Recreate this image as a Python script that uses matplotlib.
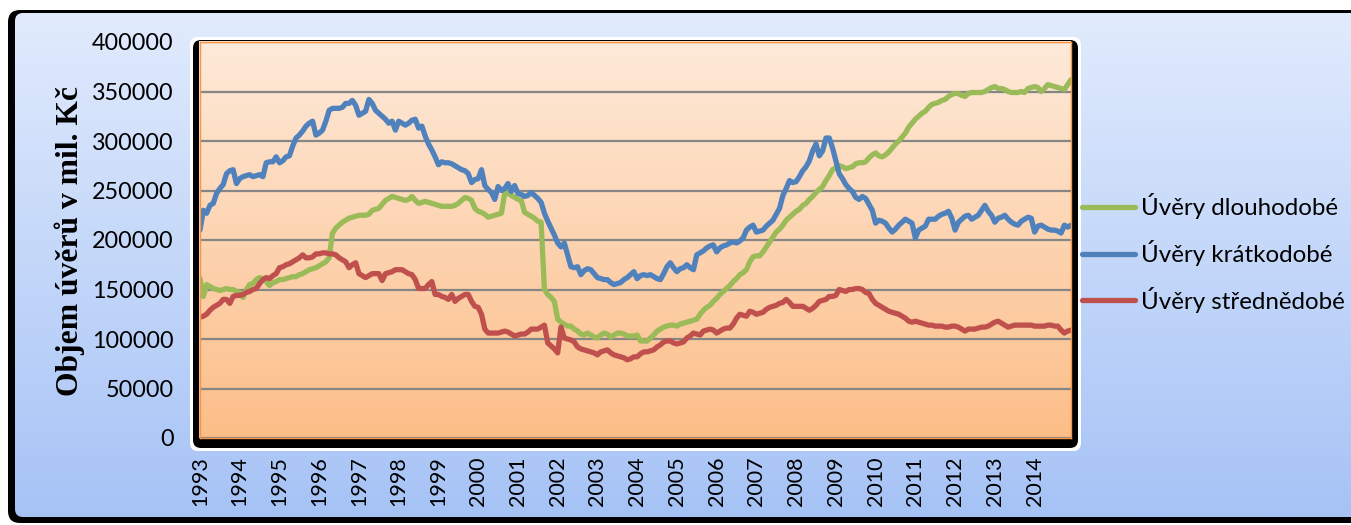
import numpy as np
import matplotlib
matplotlib.use("Agg")
import matplotlib.pyplot as plt
from matplotlib.patches import FancyBboxPatch

plt.rcParams['font.family'] = ['Lato', 'DejaVu Sans']

# mesicni data 1/1993 - 12/2014, v tis. mil. Kc
roky = list(range(1993, 2015))

dlouhodobe_tis = [
    161, 143, 155, 153, 151, 150, 149, 150, 151, 150, 150, 148,
    147, 142, 150, 155, 156, 160, 162, 161, 158, 154, 157, 158,
    160, 160, 161, 162, 163, 163, 165, 166, 168, 170, 171, 172,
    174, 176, 178, 182, 207, 212, 215, 218, 220, 222, 223, 224,
    225, 225, 225, 226, 230, 231, 232, 236, 240, 242, 244, 243,
    242, 241, 240, 241, 244, 240, 237, 238, 239, 238, 237, 236,
    235, 234, 234, 234, 234, 235, 237, 240, 243, 242, 240, 232,
    229, 228, 226, 223, 224, 225, 226, 227, 247, 247, 245, 243,
    241, 240, 228, 226, 224, 222, 219, 218, 150, 145, 142, 138,
    120, 117, 115, 113, 113, 110, 108, 105, 104, 106, 104, 102,
    101, 104, 106, 105, 102, 104, 106, 106, 105, 103, 103, 103,
    104, 98, 98, 98, 101, 104, 108, 110, 112, 113, 114, 114,
    113, 115, 116, 117, 118, 119, 120, 125, 129, 132, 134, 138,
    141, 145, 148, 151, 154, 158, 161, 165, 167, 170, 178, 183,
    184, 184, 188, 193, 198, 203, 208, 211, 215, 220, 223, 226,
    229, 231, 235, 237, 241, 244, 248, 251, 254, 260, 265, 271,
    273, 275, 274, 272, 273, 274, 277, 278, 278, 279, 283, 286,
    288, 285, 284, 286, 289, 293, 297, 300, 304, 308, 314, 318,
    322, 325, 328, 330, 334, 337, 338, 339, 341, 342, 345, 347,
    348, 348, 346, 345, 348, 349, 349, 349, 349, 350, 352, 354,
    355, 353, 353, 352, 350, 349, 349, 349, 350, 349, 353, 354,
    355, 354, 350, 353, 357, 356, 355, 354, 353, 352, 357, 362,
]

kratkodobe_tis = [
    210, 230, 227, 235, 237, 247, 252, 256, 267, 270, 271, 257,
    262, 264, 265, 266, 264, 265, 266, 264, 278, 279, 279, 284,
    278, 280, 284, 285, 295, 303, 306, 310, 315, 318, 320, 306,
    308, 311, 320, 331, 333, 333, 333, 334, 338, 338, 341, 336,
    326, 328, 330, 342, 338, 331, 328, 325, 322, 318, 320, 311,
    320, 318, 316, 318, 321, 322, 313, 315, 305, 297, 291, 284,
    276, 279, 278, 278, 277, 275, 273, 271, 270, 267, 258, 261,
    262, 271, 255, 251, 248, 241, 254, 250, 252, 257, 249, 255,
    247, 246, 244, 245, 248, 245, 242, 238, 227, 219, 212, 205,
    197, 193, 197, 185, 173, 172, 173, 165, 169, 171, 170, 166,
    162, 161, 160, 160, 157, 155, 156, 157, 160, 162, 165, 168,
    161, 164, 165, 164, 165, 163, 161, 160, 166, 173, 177, 172,
    168, 171, 172, 175, 172, 170, 185, 187, 189, 192, 194, 195,
    188, 192, 194, 195, 197, 198, 197, 199, 202, 210, 213, 215,
    208, 209, 210, 214, 217, 220, 226, 232, 245, 252, 260, 258,
    259, 264, 270, 274, 280, 290, 297, 285, 290, 303, 303, 293,
    280, 267, 262, 256, 252, 249, 243, 241, 244, 242, 236, 230,
    217, 220, 219, 217, 212, 208, 211, 215, 218, 221, 219, 217,
    202, 210, 212, 214, 221, 221, 221, 224, 226, 227, 229, 222,
    210, 218, 221, 224, 225, 221, 223, 225, 230, 235, 229, 225,
    218, 222, 223, 225, 221, 218, 216, 215, 219, 221, 223, 222,
    208, 214, 215, 213, 211, 210, 210, 209, 207, 215, 213, 215,
]

strednedobe_tis = [
    122, 123, 125, 129, 132, 134, 136, 140, 140, 136, 143, 144,
    144, 145, 147, 148, 150, 151, 156, 160, 162, 161, 164, 166,
    172, 173, 175, 176, 178, 180, 182, 185, 182, 182, 183, 186,
    186, 187, 187, 186, 186, 185, 182, 180, 178, 172, 175, 177,
    166, 164, 162, 164, 166, 166, 166, 159, 166, 167, 168, 170,
    170, 170, 168, 166, 165, 160, 151, 151, 151, 155, 158, 145,
    145, 143, 142, 140, 145, 138, 141, 143, 145, 145, 138, 133,
    132, 125, 110, 106, 106, 106, 106, 107, 108, 107, 105, 103,
    104, 105, 105, 107, 110, 110, 110, 112, 114, 96, 93, 90,
    86, 112, 101, 100, 99, 97, 92, 90, 89, 88, 87, 86,
    84, 87, 88, 89, 86, 84, 83, 82, 81, 79, 80, 82,
    82, 85, 87, 87, 88, 89, 92, 94, 97, 98, 98, 96,
    95, 96, 97, 101, 103, 106, 105, 104, 108, 109, 110, 109,
    106, 108, 110, 111, 111, 115, 121, 125, 124, 123, 128, 127,
    125, 126, 127, 130, 132, 133, 134, 136, 137, 140, 137, 133,
    133, 133, 133, 131, 129, 131, 134, 138, 139, 140, 143, 143,
    144, 150, 149, 148, 150, 150, 151, 151, 150, 147, 146, 140,
    136, 134, 132, 130, 128, 127, 126, 125, 123, 121, 118, 117,
    118, 117, 116, 115, 114, 114, 113, 113, 113, 112, 112, 113,
    113, 112, 110, 108, 110, 110, 110, 111, 112, 112, 113, 115,
    117, 118, 116, 114, 112, 113, 114, 114, 114, 114, 114, 114,
    113, 113, 113, 113, 114, 114, 113, 113, 109, 106, 108, 109,
]

dlouhodobe = np.array(dlouhodobe_tis) * 1000
kratkodobe = np.array(kratkodobe_tis) * 1000
strednedobe = np.array(strednedobe_tis) * 1000
mesice = np.arange(len(dlouhodobe))

W, H = 1351, 525
fig = plt.figure(figsize=(W / 100, H / 100), dpi=100)
fig.patch.set_facecolor('white')

# pozadi (ramecek grafu, gradienty) v pixelovych souradnicich
bg = fig.add_axes([0, 0, 1, 1], zorder=0)
bg.axis('off')


def gradient(c_top, c_bot, n=256):
    a = np.array(matplotlib.colors.to_rgb(c_top))
    b = np.array(matplotlib.colors.to_rgb(c_bot))
    t = np.linspace(0, 1, n)[:, None]
    return (a + (b - a) * t)[:, None, :]


bg.add_patch(FancyBboxPatch((8, 10), 1420, 513, boxstyle="round,pad=0,rounding_size=12",
                            facecolor='black', edgecolor='none', zorder=1))
inner = FancyBboxPatch((15, 13), 1420, 504, boxstyle="round,pad=0,rounding_size=8",
                       facecolor='none', edgecolor='none', zorder=1)
bg.add_patch(inner)
im = bg.imshow(gradient('#E1EBFD', '#A6C3F6'), extent=[15, W, 517, 13],
               aspect='auto', origin='upper', interpolation='bilinear', zorder=2)
im.set_clip_path(inner)

bg.add_patch(FancyBboxPatch((190, 37), 891, 414, boxstyle="round,pad=0,rounding_size=8",
                            facecolor='white', edgecolor='none', zorder=3))
bg.add_patch(FancyBboxPatch((193, 40), 885, 408, boxstyle="round,pad=0,rounding_size=8",
                            facecolor='black', edgecolor='none', zorder=4))
bg.imshow(gradient('#FEEADA', '#FCBE88'), extent=[199, 1071, 438, 41],
          aspect='auto', origin='upper', interpolation='bilinear', zorder=5)
bg.set_xlim(0, W)
bg.set_ylim(H, 0)

# hlavni graf
ax = fig.add_axes([200 / W, 1 - 438 / H, 871 / W, 396 / H], zorder=1)
ax.set_facecolor('none')

lw = 3.8
ax.plot(mesice, dlouhodobe, color='#9BBB59', lw=lw, solid_joinstyle='round',
        solid_capstyle='round', label='Úvěry dlouhodobé')
ax.plot(mesice, kratkodobe, color='#4F81BD', lw=lw, solid_joinstyle='round',
        solid_capstyle='round', label='Úvěry krátkodobé')
ax.plot(mesice, strednedobe, color='#C0504D', lw=lw, solid_joinstyle='round',
        solid_capstyle='round', label='Úvěry střednědobé')

ax.set_xlim(0, len(mesice) - 1)
ax.set_ylim(0, 400000)
ax.set_yticks(np.arange(0, 400001, 50000))
ax.set_yticklabels([str(v) for v in range(0, 400001, 50000)])
ax.set_xticks(np.arange(0, len(mesice), 12))
ax.set_xticklabels([str(r) for r in roky], rotation=90)
ax.yaxis.grid(True, color='#868686', lw=1.6)
ax.set_axisbelow(True)
ax.tick_params(axis='y', length=0, pad=19, labelsize=16.8, labelcolor='black')
ax.tick_params(axis='x', length=0, pad=13, labelsize=15.5, labelcolor='black')
for s in ax.spines.values():
    s.set_color('#F79646')
    s.set_linewidth(1.0)

fig.text(70 / W, 1 - 241 / H, 'Objem úvěrů v mil. Kč', rotation=90, ha='center',
         va='center', fontsize=22.8, fontweight='bold', family='Liberation Serif')

fig.legend(loc='center left', bbox_to_anchor=(1082 / W, 1 - 253 / H), frameon=False,
           fontsize=17.4, handlelength=2.2, handletextpad=0.25, labelspacing=0.85,
           borderpad=0, borderaxespad=0)

fig.savefig('out.png', dpi=100)
